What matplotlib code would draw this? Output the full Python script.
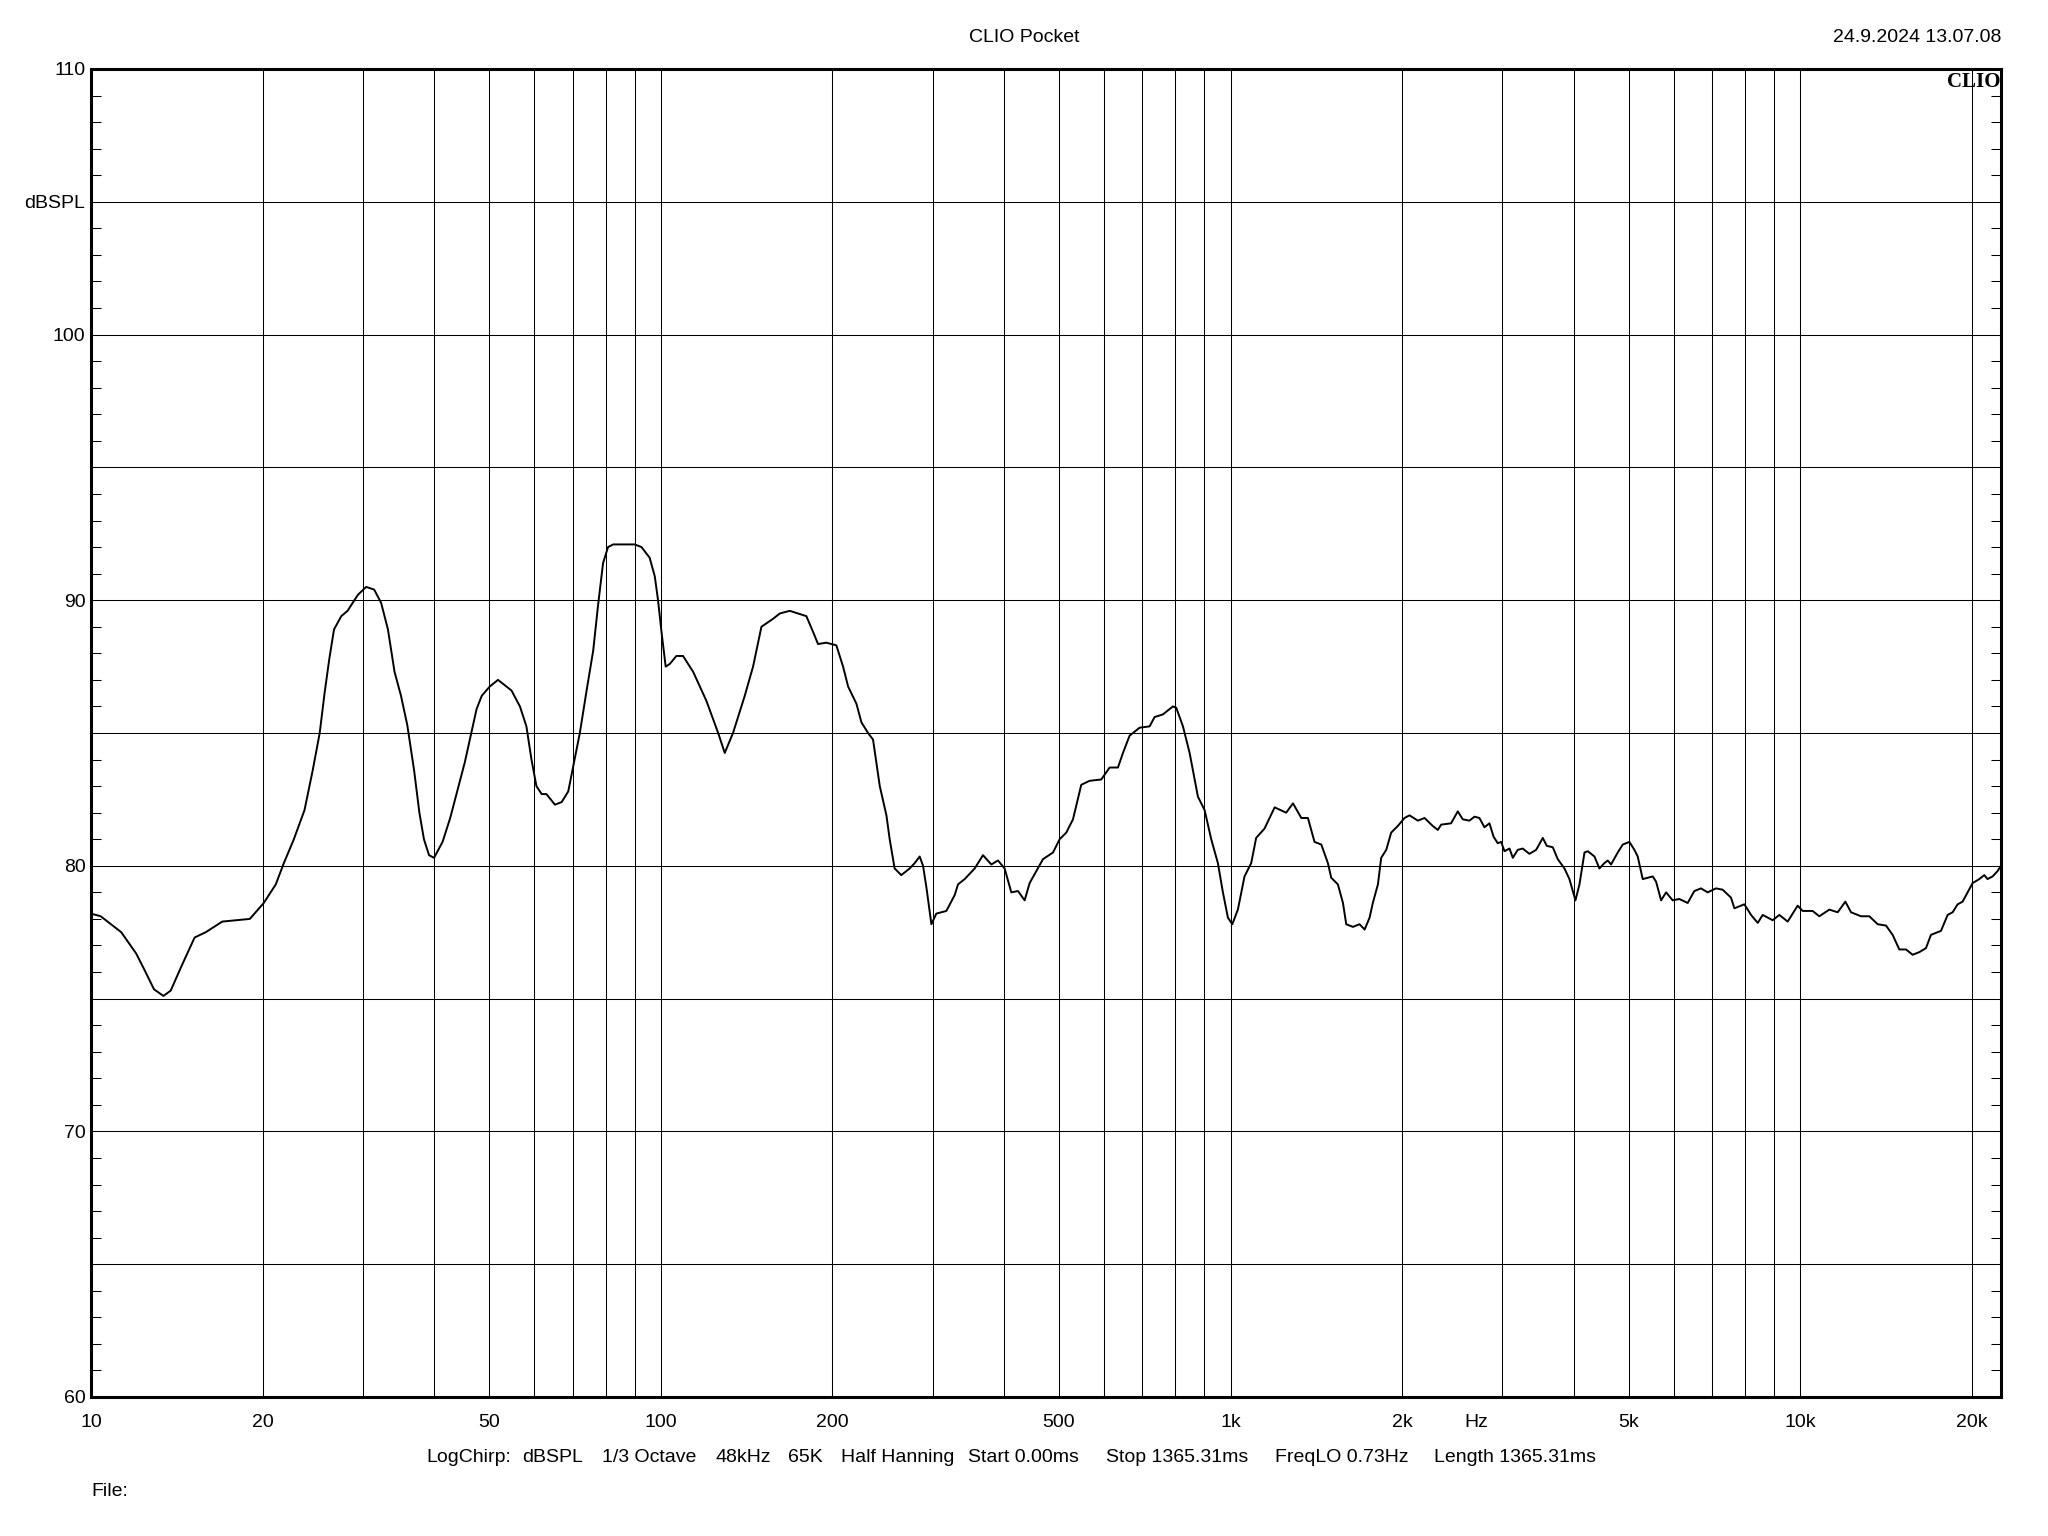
#!/usr/bin/env python3
"""
CLIO Pocket style frequency response plot (LogChirp, 1/3 octave smoothing).
"""

import matplotlib
matplotlib.use("Agg")
import matplotlib.pyplot as plt
from matplotlib.ticker import FixedLocator, NullFormatter

# ----------------- DATA -----------------
freq = [
    10.0, 10.4, 11.3, 12.0, 12.4, 12.9, 13.4, 13.8, 14.4, 15.2, 15.9, 17.0, 19.0,
    20.1, 21.1, 21.8, 22.7, 23.7, 24.5, 25.2, 25.7, 26.2, 26.7, 27.5, 28.2, 29.4,
    30.4, 31.4, 32.3, 33.2, 34.1, 35.0, 35.9, 36.9, 37.7, 38.4, 39.2, 40.0, 41.4,
    42.7, 43.8, 45.3, 46.5, 47.5, 48.5, 50.1, 51.8, 54.7, 56.6, 58.1, 59.3, 60.5,
    61.8, 63.0, 65.2, 67.0, 68.8, 70.2, 72.1, 74.1, 76.1, 77.6, 79.2, 80.8, 82.5,
    90.0, 92.5, 95.6, 97.6, 98.9, 100.3, 102.0, 103.7, 106.5, 109.4, 114.0, 120.3,
    126.1, 129.5, 133.9, 140.4, 145.2, 150.2, 157.4, 161.8, 168.4,
    180.1, 185.1, 188.8, 195.3, 203.3, 208.9, 213.2, 220.5, 225.0, 231.1, 235.8,
    242.3, 248.9, 252.2, 257.3, 264.3, 273.4, 279.0, 284.7, 288.6, 292.5, 298.5,
    304.5, 317.1, 328.0, 332.4, 341.5, 355.6, 367.7, 380.3, 390.7, 401.3, 412.3,
    423.6, 435.1, 444.0, 456.1, 468.6, 487.9, 501.2, 514.9, 529.0, 547.0, 565.7,
    593.1, 613.4, 634.4, 647.4, 665.0, 692.5, 721.1,
    735.6, 760.8, 792.2, 803.0, 825.0, 847.5, 876.5, 900.4, 924.9, 950.1, 969.6,
    989.3, 1007, 1030, 1058, 1087, 1109, 1147, 1195, 1252, 1287, 1331, 1367, 1404,
    1443, 1482, 1502, 1543, 1575, 1596, 1640, 1684, 1719, 1754, 1777, 1814, 1838,
    1876, 1914, 1966, 2020, 2061, 2132, 2190, 2264, 2311, 2342, 2438, 2505, 2556,
    2626, 2680, 2734, 2790, 2847, 2894, 2944,
    2985, 3025, 3087, 3129, 3192, 3257, 3346, 3438, 3532, 3589, 3677, 3752, 3855,
    3933, 4030, 4096, 4180, 4236, 4352, 4440, 4530, 4592, 4654, 4781, 4879, 5012,
    5114, 5183, 5289, 5508, 5583, 5697, 5813, 5970, 6134, 6343, 6516, 6693, 6876,
    7112, 7306, 7557, 7660, 7976, 8194, 8418, 8590, 8943, 9187, 9502, 9893, 10094,
    10510, 10797, 11244, 11630, 11996, 12274, 12779, 13216, 13668, 14137, 14521,
    14918, 15326, 15744, 16174, 16615, 16953, 17654, 18136, 18505, 18881, 19267,
    19660, 20063, 20610, 21030, 21310, 21750, 22190, 22490,
]
spl = [
    78.2, 78.1, 77.5, 76.7, 76.1, 75.35, 75.1, 75.3, 76.2, 77.3, 77.5, 77.9, 78.0,
    78.6, 79.3, 80.1, 81.0, 82.1, 83.6, 85.0, 86.5, 87.8, 88.9, 89.4, 89.6, 90.2,
    90.5, 90.4, 89.9, 88.9, 87.3, 86.4, 85.3, 83.6, 82.0, 81.0, 80.4, 80.3, 80.9,
    81.8, 82.7, 83.9, 85.0, 85.9, 86.4, 86.75, 87.0, 86.6, 86.0, 85.25, 84.0, 83.0,
    82.7, 82.7, 82.3, 82.4, 82.8, 83.75, 85.0, 86.6, 88.1, 89.8, 91.4, 92.0, 92.1,
    92.1, 92.0, 91.6, 90.9, 90.0, 88.8, 87.5, 87.6, 87.9, 87.9, 87.3, 86.2,
    85.0, 84.25, 85.0, 86.4, 87.5, 89.0, 89.3, 89.5, 89.6,
    89.4, 88.8, 88.35, 88.4, 88.3, 87.5, 86.75, 86.1, 85.4, 85.0, 84.75,
    83.0, 81.9, 81.0, 79.9, 79.65, 79.9, 80.1, 80.35, 80.0, 79.2, 77.8,
    78.2, 78.3, 78.9, 79.3, 79.5, 79.9, 80.4, 80.05, 80.2, 79.9, 79.0,
    79.05, 78.7, 79.35, 79.8, 80.25, 80.5, 81.0, 81.25, 81.75, 83.05, 83.2,
    83.25, 83.7, 83.7, 84.25, 84.9, 85.2, 85.25,
    85.6, 85.7, 86.0, 85.95, 85.25, 84.25, 82.6, 82.1, 81.0, 80.1, 79.0,
    78.05, 77.8, 78.35, 79.6, 80.1, 81.05, 81.4, 82.2, 82.0, 82.35, 81.8, 81.8, 80.9,
    80.8, 80.1, 79.55, 79.3, 78.6, 77.8, 77.7, 77.8, 77.6, 78.05, 78.6, 79.3, 80.3,
    80.6, 81.25, 81.5, 81.8, 81.9, 81.7, 81.8, 81.5, 81.35, 81.55, 81.6, 82.05, 81.75,
    81.7, 81.85, 81.8, 81.45, 81.6, 81.1, 80.85,
    80.9, 80.55, 80.65, 80.3, 80.6, 80.65, 80.45, 80.6, 81.05, 80.75, 80.7, 80.25, 79.9,
    79.5, 78.7, 79.3, 80.5, 80.55, 80.35, 79.9, 80.1, 80.2, 80.05, 80.5, 80.8, 80.9,
    80.6, 80.35, 79.5, 79.6, 79.4, 78.7, 79.0, 78.7, 78.75, 78.6, 79.05, 79.15, 79.0,
    79.15, 79.1, 78.8, 78.4, 78.55, 78.15, 77.85, 78.15, 77.95, 78.15, 77.9, 78.5, 78.3,
    78.3, 78.1, 78.35, 78.25, 78.65, 78.25, 78.1, 78.1, 77.8, 77.75, 77.4,
    76.85, 76.85, 76.65, 76.75, 76.9, 77.4, 77.55, 78.15, 78.25, 78.55, 78.65,
    79.0, 79.35, 79.5, 79.65, 79.5, 79.6, 79.8, 80.0,
]

x_major = [10, 20, 50, 100, 200, 500, 1000, 2000, 5000, 10000, 20000]
x_major_labels = ["10", "20", "50", "100", "200", "500", "1k", "2k", "5k", "10k", "20k"]
x_grid_minor = [30, 40, 60, 70, 80, 90, 300, 400, 600, 700, 800, 900,
                3000, 4000, 6000, 7000, 8000, 9000]
y_major = [60, 65, 70, 75, 80, 85, 90, 95, 100, 105, 110]
y_major_labels = ["60", "", "70", "", "80", "", "90", "", "100", "dBSPL", "110"]
y_minor = [v for v in range(60, 111) if v % 5 != 0]

title = "CLIO Pocket"
timestamp = "24.9.2024 13.07.08"
info_items = ["LogChirp:", "dBSPL", "1/3 Octave", "48kHz", "65K", "Half Hanning",
              "Start 0.00ms", "Stop 1365.31ms", "FreqLO 0.73Hz", "Length 1365.31ms"]
info_x_px = [426, 522, 602, 716, 788, 841, 968, 1106, 1275, 1434]

# ----------------- PLOT -----------------
W, H = 2048, 1536
plt.rcParams["font.family"] = ["Liberation Sans", "DejaVu Sans"]
plt.rcParams["text.color"] = "black"

fig = plt.figure(figsize=(W / 100, H / 100), dpi=100)
left, right, top, bottom = 91, 2001, 69, 1397
ax = fig.add_axes([left / W, 1 - bottom / H, (right - left) / W, (bottom - top) / H])

ax.plot(freq, spl, color="black", lw=1.4, zorder=3)

ax.set_xscale("log")
ax.set_xlim(10, 22500)
ax.set_ylim(60, 110)

ax.set_xticks(x_major)
ax.set_xticklabels(x_major_labels)
ax.xaxis.set_minor_locator(FixedLocator(x_grid_minor))
ax.xaxis.set_minor_formatter(NullFormatter())
ax.set_yticks(y_major)
ax.set_yticklabels(y_major_labels)
ax.set_yticks(y_minor, minor=True)

ax.grid(True, which="major", color="black", lw=0.75)
ax.xaxis.grid(True, which="minor", color="black", lw=0.75)
ax.set_axisbelow(True)

ax.tick_params(axis="x", which="both", length=0, pad=12, labelsize=14, labelcolor="black")
ax.tick_params(axis="y", which="major", length=0, pad=4, labelsize=14, labelcolor="black")
ax.tick_params(axis="y", which="minor", direction="in", left=True, right=True,
               length=7, width=0.75, color="black")

for sp in ax.spines.values():
    sp.set_linewidth(2.2)
    sp.set_color("black")

# "Hz" unit label sits among the frequency labels
ax.annotate("Hz", xy=(2700, 0), xycoords=("data", "axes fraction"),
            xytext=(0, -12), textcoords="offset points",
            ha="center", va="top", fontsize=14)

# CLIO logo in the upper right corner
ax.text(0.9995, 0.9975, "CLIO", transform=ax.transAxes, ha="right", va="top",
        family="Liberation Serif", weight="bold", fontsize=15, zorder=4)

# header
fig.text(1024 / W, 1 - 37 / H, title, ha="center", va="center", fontsize=14)
fig.text(right / W, 1 - 37 / H, timestamp, ha="right", va="center", fontsize=14)

# measurement info line
for item, xp in zip(info_items, info_x_px):
    fig.text(xp / W, 1 - 1458 / H, item, ha="left", va="center", fontsize=14)

fig.text(left / W, 1 - 1492 / H, "File:", ha="left", va="center", fontsize=14)

fig.savefig("out.png", dpi=100)
